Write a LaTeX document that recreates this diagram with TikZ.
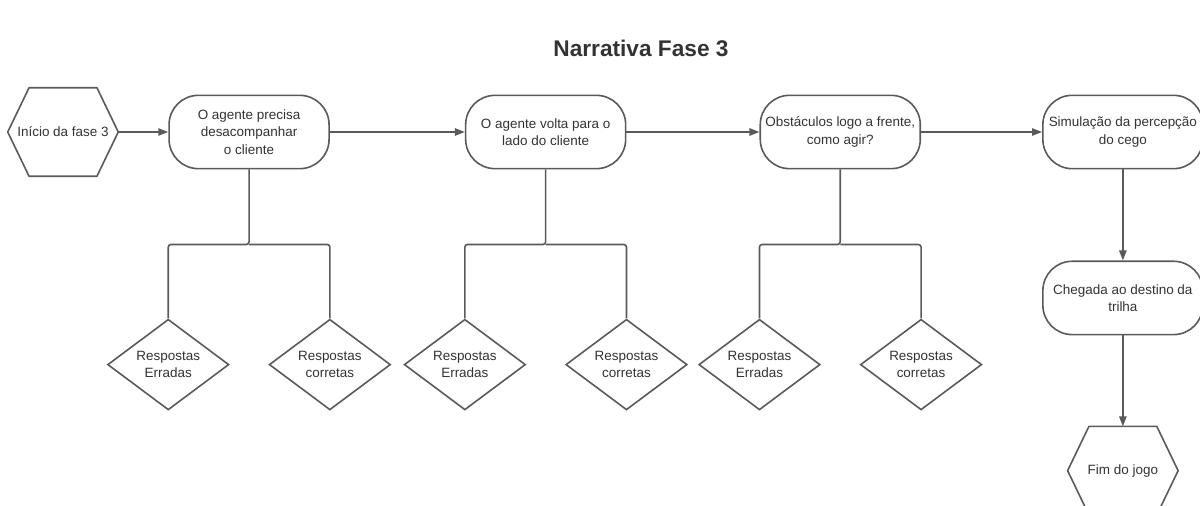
\documentclass[tikz,border=0pt]{standalone}
\usepackage{fontspec}
\setmainfont{Liberation Sans}
\usetikzlibrary{arrows.meta,positioning,shapes.geometric}
\definecolor{linegray}{HTML}{5A5A5A}
\definecolor{textgray}{HTML}{333333}
\tikzset{
    pill/.style = {draw=linegray, rectangle, rounded corners=22pt,
        line width=1.2pt, fill=white, align=center,
        minimum height=55pt, minimum width=120pt, inner sep=2pt},
    resp/.style = {draw=linegray, diamond, shape aspect=1.35,
        line width=1.2pt, fill=white, align=center,
        minimum width=91pt, minimum height=68pt, inner sep=0pt},
    hexa/.style = {rectangle, align=center,
        minimum width=82.5pt, minimum height=66pt, inner sep=0pt}
}
% hexagonal frame round a hexa node
\newcommand{\hexframe}[1]{%
    \draw[draw=linegray, line width=1.2pt, line join=round]
        ([xshift=16pt]#1.north west) -- ([xshift=-16pt]#1.north east) -- (#1.east)
        -- ([xshift=-16pt]#1.south east) -- ([xshift=16pt]#1.south west) -- (#1.west) -- cycle;}

\begin{document}
\begin{tikzpicture}[
    x=0.75pt, y=-0.75pt,
    every node/.style={text=textgray, font=\fontsize{10.1}{13}\selectfont},
    arr/.style={-{Triangle[length=7.5pt,width=5.5pt]}, draw=linegray, line width=1.2pt},
    line/.style={draw=linegray, line width=1.2pt, rounded corners=2pt}
]
\clip (0,0) rectangle (1200,506);
\node[font=\fontsize{17}{20}\selectfont\bfseries] (title) at (641,48) {Narrativa Fase 3};

% main row
\node[hexa] (ini) at (63,132) {Início da fase 3};
\hexframe{ini}
\node[pill, right=37.5pt of ini] (p1) {O agente precisa\\ desacompanhar\\ o cliente};
\node[pill, right=101.25pt of p1] (p2) {O agente volta para o\\ lado do cliente};
\node[pill, right=99.75pt of p2] (p3) {Obstáculos logo a frente,\\ como agir?};
\node[pill, right=90.75pt of p3] (p4) {Simulação da percepção\\ do cego};
\node[pill, below=68.25pt of p4] (p5) {Chegada ao destino da\\ trilha};
\node[hexa, below=68.25pt of p5] (fim) {Fim do jogo};
\hexframe{fim}

% answers
\node[resp, below=111.75pt of p1.south west] (e1) {Respostas\\ Erradas};
\node[resp, below=111.75pt of p1.south east] (c1) {Respostas\\ corretas};
\node[resp, below=111.75pt of p2.south west] (e2) {Respostas\\ Erradas};
\node[resp, below=111.75pt of p2.south east] (c2) {Respostas\\ corretas};
\node[resp, below=111.75pt of p3.south west] (e3) {Respostas\\ Erradas};
\node[resp, below=111.75pt of p3.south east] (c3) {Respostas\\ corretas};

\draw[arr] (ini) -- (p1);
\draw[arr] (p1) -- (p2);
\draw[arr] (p2) -- (p3);
\draw[arr] (p3) -- (p4);
\draw[arr] (p4) -- (p5);
\draw[arr] (p5) -- (fim);

\draw[line] (p1.south) -- ++(0,-56.25pt) coordinate (f1) -| (e1.north);
\draw[line] (f1) -| (c1.north);
\draw[line] (p2.south) -- ++(0,-56.25pt) coordinate (f2) -| (e2.north);
\draw[line] (f2) -| (c2.north);
\draw[line] (p3.south) -- ++(0,-56.25pt) coordinate (f3) -| (e3.north);
\draw[line] (f3) -| (c3.north);
\end{tikzpicture}
\end{document}
